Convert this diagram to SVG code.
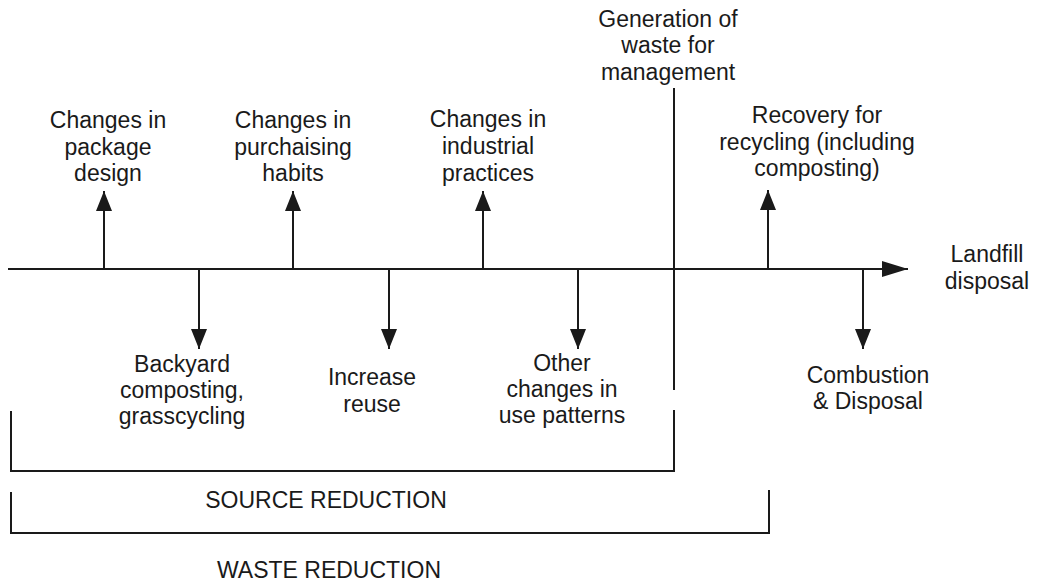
<svg xmlns="http://www.w3.org/2000/svg" width="1039" height="581" viewBox="0 0 1039 581">
<defs>
<style>
.t{font-family:"Liberation Sans",Arial,sans-serif;font-size:23px;fill:#1a1a1a;text-anchor:middle}
.c{font-family:"Liberation Sans",Arial,sans-serif;font-size:23px;fill:#1a1a1a;text-anchor:middle}
.ln{stroke:#1a1a1a;stroke-width:2;fill:none}
</style>
<marker id="ah" markerUnits="userSpaceOnUse" markerWidth="20" markerHeight="16" refX="20" refY="8" orient="auto" viewBox="0 0 20 16">
<path d="M0,0 L20,8 L0,16 z" fill="#1a1a1a"/>
</marker>
<marker id="ahm" markerUnits="userSpaceOnUse" markerWidth="26" markerHeight="16" refX="26" refY="8" orient="auto" viewBox="0 0 26 16">
<path d="M0,0 L26,8 L0,16 z" fill="#1a1a1a"/>
</marker>
</defs>
<rect width="1039" height="581" fill="#ffffff"/>
<g id="connectors">
<line class="ln" x1="8" y1="269" x2="908" y2="269" marker-end="url(#ahm)"/>
<line class="ln" x1="104" y1="269" x2="104" y2="191" marker-end="url(#ah)"/>
<line class="ln" x1="293" y1="269" x2="293" y2="191" marker-end="url(#ah)"/>
<line class="ln" x1="483" y1="269" x2="483" y2="191" marker-end="url(#ah)"/>
<line class="ln" x1="768" y1="269" x2="768" y2="190" marker-end="url(#ah)"/>
<line class="ln" x1="199" y1="269" x2="199" y2="349" marker-end="url(#ah)"/>
<line class="ln" x1="389" y1="269" x2="389" y2="349" marker-end="url(#ah)"/>
<line class="ln" x1="578" y1="269" x2="578" y2="349" marker-end="url(#ah)"/>
<line class="ln" x1="863" y1="269" x2="863" y2="349" marker-end="url(#ah)"/>
<line class="ln" x1="674" y1="88" x2="674" y2="390"/>
</g>
<g id="source-reduction">
<path class="ln" d="M674,410 L674,471 L11,471 L11,411"/>
<text class="c" x="326" y="508">SOURCE REDUCTION</text>
</g>
<g id="waste-reduction">
<path class="ln" d="M769,490 L769,533 L11,533 L11,492"/>
<text class="c" x="329" y="578">WASTE REDUCTION</text>
</g>
<g id="package-design">
<text class="t" x="108" y="128">Changes in</text>
<text class="t" x="108" y="155">package</text>
<text class="t" x="108" y="181">design</text>
</g>
<g id="purchasing-habits">
<text class="t" x="293" y="128">Changes in</text>
<text class="t" x="293" y="155">purchaising</text>
<text class="t" x="293" y="181">habits</text>
</g>
<g id="industrial-practices">
<text class="t" x="488" y="127">Changes in</text>
<text class="t" x="488" y="154">industrial</text>
<text class="t" x="488" y="181">practices</text>
</g>
<g id="generation">
<text class="t" x="668" y="27">Generation of</text>
<text class="t" x="668" y="53">waste for</text>
<text class="t" x="668" y="80">management</text>
</g>
<g id="recovery">
<text class="t" x="817" y="123">Recovery for</text>
<text class="t" x="817" y="150">recycling (including</text>
<text class="t" x="817" y="176">composting)</text>
</g>
<g id="landfill">
<text class="t" x="987" y="262">Landfill</text>
<text class="t" x="987" y="289">disposal</text>
</g>
<g id="backyard">
<text class="t" x="182" y="372">Backyard</text>
<text class="t" x="182" y="398">composting,</text>
<text class="t" x="182" y="424">grasscycling</text>
</g>
<g id="reuse">
<text class="t" x="372" y="385">Increase</text>
<text class="t" x="372" y="412">reuse</text>
</g>
<g id="other-changes">
<text class="t" x="562" y="371">Other</text>
<text class="t" x="562" y="397">changes in</text>
<text class="t" x="562" y="423">use patterns</text>
</g>
<g id="combustion">
<text class="t" x="868" y="383">Combustion</text>
<text class="t" x="868" y="409">&amp; Disposal</text>
</g>
</svg>
